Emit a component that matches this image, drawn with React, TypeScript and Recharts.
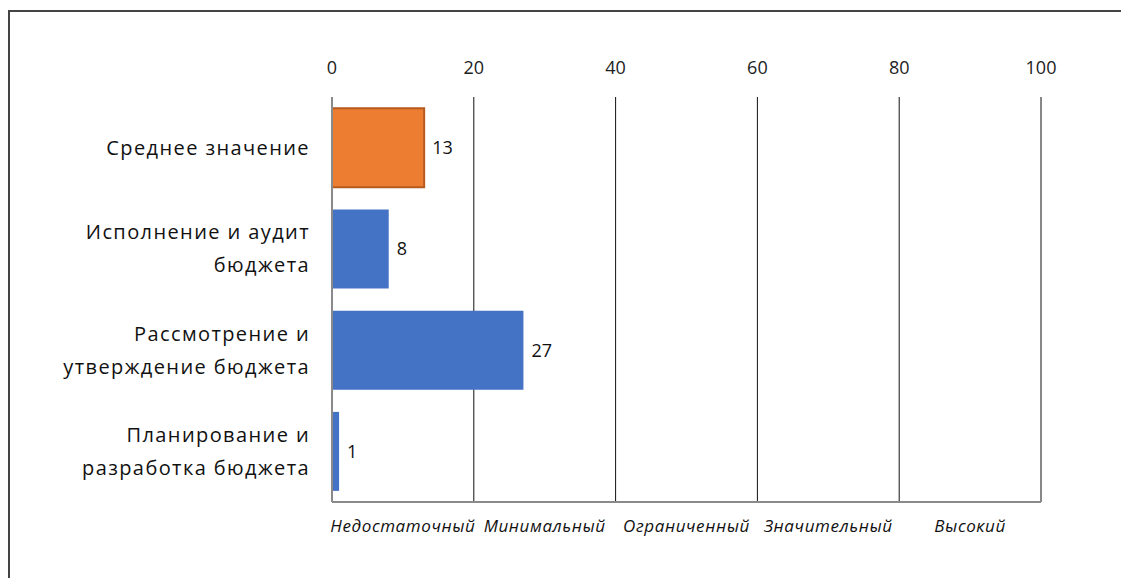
import React from "react";
import { BarChart, Bar, XAxis, YAxis, CartesianGrid, Cell, LabelList } from "recharts";

const categories = [
  "Среднее значение",
  "Исполнение и аудит\nбюджета",
  "Рассмотрение и\nутверждение бюджета",
  "Планирование и\nразработка бюджета",
];
const values = [13, 8, 27, 1];
const barColors = ["#ED7D31", "#4472C4", "#4472C4", "#4472C4"];
const barStrokes = ["#B65A1E", "none", "none", "none"];
const topTicks = [0, 20, 40, 60, 80, 100];
const levelTicks = [10, 30, 50, 70, 90];
const levelLabels = ["Недостаточный", "Минимальный", "Ограниченный", "Значительный", "Высокий"];

const data = categories.map((name, i) => ({ name, value: values[i] }));

const FONT = "'Open Sans', sans-serif";

const YTick = (props: any) => {
  const { x, y, payload } = props;
  const lines = String(payload.value).split("\n");
  const lh = 33;
  const start = -((lines.length - 1) * lh) / 2;
  return (
    <text x={x} y={y} textAnchor="end" fill="#111" fontSize={20} fontFamily={FONT} letterSpacing={1.4}>
      {lines.map((l, i) => (
        <tspan key={i} x={x} y={y + start + i * lh} dy="0.35em">
          {l}
        </tspan>
      ))}
    </text>
  );
};

const LevelTick = (props: any) => {
  const { x, y, payload } = props;
  const idx = levelTicks.indexOf(payload.value);
  return (
    <text x={x} y={y} textAnchor="middle" fill="#111" fontSize={17} fontFamily={FONT} fontStyle="italic" letterSpacing={0.6} dy="0.35em">
      {levelLabels[idx]}
    </text>
  );
};

export default function App() {
  return (
    <div style={{ position: "relative", width: 1121, height: 570 }}>
      <style>{"html,body{overflow:hidden}"}</style>
      <div
        style={{
          position: "absolute",
          left: 0,
          top: 2,
          width: 1125,
          height: 600,
          borderTop: "2px solid #444",
          borderLeft: "2px solid #444",
          boxSizing: "border-box",
        }}
      />
      <div style={{ position: "absolute", left: 2, top: 4 }}>
        <BarChart
          width={1110}
          height={560}
          data={data}
          layout="vertical"
          margin={{ top: 55, right: 79, bottom: 30, left: 10 }}
          barCategoryGap="11%"
        >
          <CartesianGrid xAxisId="top" horizontal={false} vertical={true} stroke="#111" strokeWidth={1} />
          <XAxis
            xAxisId="top"
            type="number"
            orientation="top"
            domain={[0, 100]}
            ticks={topTicks}
            axisLine={false}
            tickLine={false}
            height={30}
            tickMargin={17}
            tick={{ fill: "#222", fontSize: 18, fontFamily: FONT }}
          />
          <XAxis
            xAxisId="bottom"
            type="number"
            dataKey="value"
            orientation="bottom"
            domain={[0, 100]}
            allowDataOverflow
            ticks={levelTicks}
            axisLine={{ stroke: "#8a8a8a", strokeWidth: 2 }}
            tickLine={false}
            height={40}
            tickMargin={18}
            tick={<LevelTick />}
          />
          <YAxis
            type="category"
            dataKey="name"
            width={312}
            axisLine={{ stroke: "#8a8a8a", strokeWidth: 2 }}
            tickLine={false}
            tick={<YTick />}
            tickMargin={16}
          />
          <Bar dataKey="value" xAxisId="top" isAnimationActive={false}>
            {data.map((d, i) => (
              <Cell key={i} fill={barColors[i]} stroke={barStrokes[i]} strokeWidth={2} />
            ))}
            <LabelList dataKey="value" position="right" offset={8} fill="#111" fontSize={18} fontFamily={FONT} />
          </Bar>
        </BarChart>
      </div>
    </div>
  );
}
